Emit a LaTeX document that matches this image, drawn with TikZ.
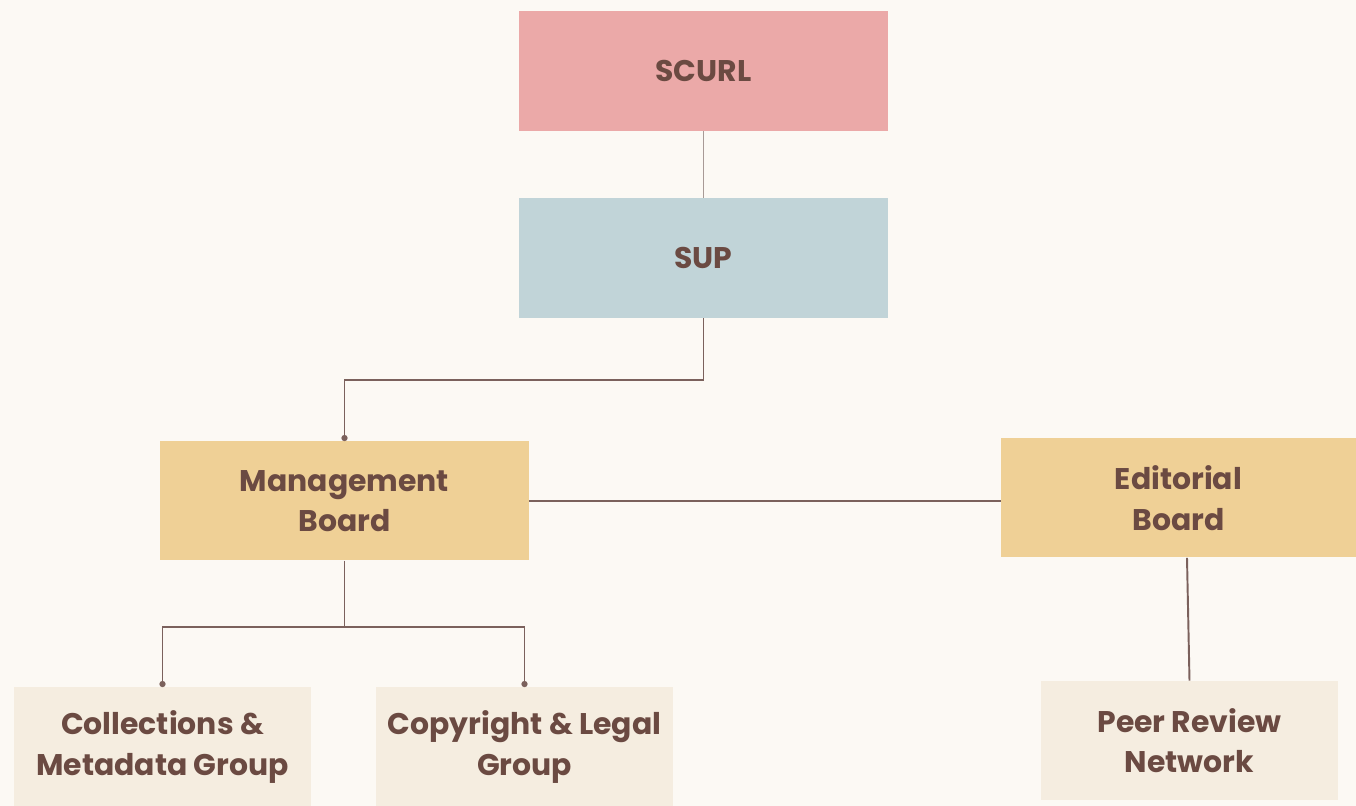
\documentclass[tikz,border=0pt]{standalone}
\usepackage{fontspec}
\setmainfont{Poppins}
\usepackage{tikz}
\usetikzlibrary{arrows.meta,positioning,calc}
\usepackage{xcolor}

\definecolor{fundo}{HTML}{FCF9F4}
\definecolor{texto}{HTML}{6B4A42}
\definecolor{linha}{HTML}{7B615C}
\definecolor{linhaclara}{HTML}{A89A96}
\definecolor{rosa}{HTML}{EBA9A8}
\definecolor{azul}{HTML}{C1D4D8}
\definecolor{ouro}{HTML}{EFD096}
\definecolor{creme}{HTML}{F5EDE0}

\tikzset{
    caixa/.style={rectangle, inner sep=0pt, align=center, text=texto,
        font=\fontsize{17}{23}\selectfont\bfseries},
    topo/.style={caixa, fill=rosa, minimum width=7.38cm, minimum height=2.4cm},
    meio/.style={caixa, fill=azul, minimum width=7.38cm, minimum height=2.4cm},
    conselho/.style={caixa, fill=ouro, minimum height=2.38cm},
    grupo/.style={caixa, fill=creme, minimum width=5.94cm, minimum height=2.38cm},
    liga/.style={draw=linha, line width=1.1pt},
    ponto/.style={liga, -{Circle[length=3.5pt]}}
}

\begin{document}
\begin{tikzpicture}
        % Fundo e limites
        \fill[fundo] (0,0) rectangle (27.12,16.12);
        \useasboundingbox (0,0) rectangle (27.12,16.12);
        % Nivel superior
        \node[topo] (scurl) at (14.07,14.70) {SCURL};
        \node[meio] (sup) at (14.07,10.96) {SUP};
        % Conselhos
        \node[conselho, minimum width=7.38cm] (gestao) at (6.89,6.10) {Management\\Board};
        \node[conselho, minimum width=7.10cm] (editorial) at (23.57,6.16) {Editorial\\Board};
        % Grupos
        \node[grupo] (colecoes) at (3.25,1.18) {Collections \&\\Metadata Group};
        \node[grupo] (direitos) at (10.49,1.18) {Copyright \& Legal\\Group};
        \node[grupo] (pares) at (23.79,1.31) {Peer Review\\Network};
        % Ligacoes
        \draw[liga, draw=linhaclara] (scurl) -- (sup);
        \draw[ponto] (sup.south) -- ++(0,-1.24) -| (gestao.north);
        \draw[liga] (gestao.east) -- (gestao.east -| editorial.west);
        \draw[ponto] (gestao.south) -- ++(0,-1.32) -| (colecoes.north);
        \draw[ponto] (gestao.south) -- ++(0,-1.32) -| (direitos.north);
        \draw[liga] ([xshift=0.17cm]editorial.south) -- (pares.north);
    \end{tikzpicture}
\end{document}
